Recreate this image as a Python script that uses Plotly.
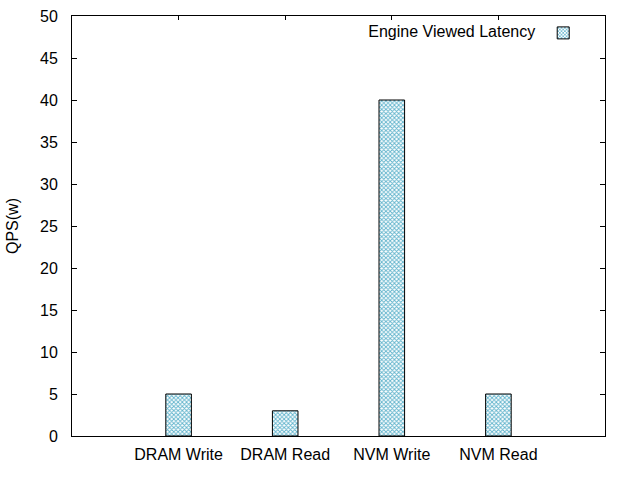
import plotly.graph_objects as go

categories = ["DRAM Write", "DRAM Read", "NVM Write", "NVM Read"]
qps = [5, 3, 40, 5]
series_name = "Engine Viewed Latency"
y_ticks = [0, 5, 10, 15, 20, 25, 30, 35, 40, 45, 50]

font = dict(family="Liberation Sans, Arial, sans-serif", size=16, color="#000000")

fig = go.Figure()
fig.add_trace(go.Bar(
    x=list(range(len(categories))),
    y=qps,
    width=0.24,
    name=" ",
    marker=dict(
        color="#ffffff",
        line=dict(color="#000000", width=1),
        pattern=dict(shape="x", size=3, solidity=0.5,
                     fgcolor="#5fb3cc", bgcolor="#ffffff", fillmode="replace"),
    ),
))

axis_common = dict(
    showline=True, linecolor="#000000", linewidth=1,
    mirror="ticks", ticks="inside", ticklen=5, tickcolor="#000000",
    showgrid=False, zeroline=False, tickfont=font, automargin=False,
)

fig.update_layout(
    width=622, height=489,
    margin=dict(l=72, r=17, t=16, b=53),
    paper_bgcolor="#ffffff", plot_bgcolor="#ffffff",
    font=font,
    showlegend=True,
    legend=dict(
        orientation="h", x=0.978, y=1.0, xanchor="right", yanchor="top",
        title=dict(text=series_name, side="left", font=font),
        bgcolor="rgba(0,0,0,0)", font=font,
    ),
    xaxis=dict(
        axis_common, range=[-1, 4],
        tickmode="array", tickvals=list(range(len(categories))), ticktext=categories,
        layer="below traces", ticklen=4, ticklabelstandoff=4,
    ),
    yaxis=dict(
        axis_common, range=[0, 50],
        tickmode="array", tickvals=y_ticks, ticklabelstandoff=10,
        title=dict(text="QPS(w)", font=font, standoff=17),
    ),
)

# drop the default 8px body margin so the figure sits at the page corner
fig.write_html("out.html", config={"displayModeBar": False},
               post_script="document.body.style.margin='0';")
